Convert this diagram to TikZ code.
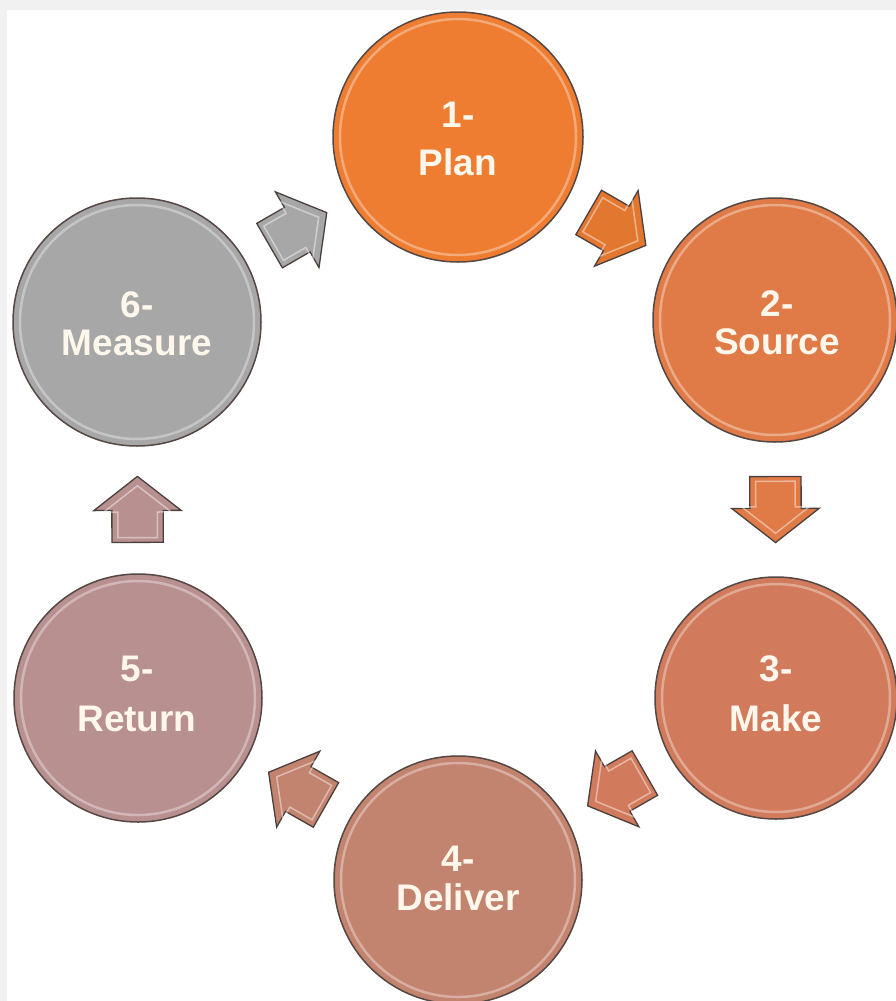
\documentclass[tikz,border=0pt]{standalone}
\usepackage{fontspec}
\setmainfont{Liberation Sans}
\usetikzlibrary{shapes.arrows,calc}
\definecolor{frame}{HTML}{F1F1F1}
\definecolor{cplan}{HTML}{EE7D31}
\definecolor{csource}{HTML}{E07B47}
\definecolor{cmake}{HTML}{D17B5C}
\definecolor{cdeliver}{HTML}{C2836F}
\definecolor{creturn}{HTML}{B8908F}
\definecolor{cmeasure}{HTML}{A7A7A7}
\definecolor{edge}{HTML}{554744}
\definecolor{txt}{HTML}{FFF7EC}
\begin{document}
\begin{tikzpicture}[x=1pt,y=-1pt,
  circ/.style={circle,draw=edge,line width=1.5pt,inner sep=0pt,minimum size=#1},
  ring/.style={circle,draw=white,draw opacity=0.35,line width=2.5pt,inner sep=0pt,minimum size=#1},
  lbl/.style={text=txt,font=\fontsize{37}{42}\selectfont\bfseries,inner sep=0pt,text height=26pt,text depth=0pt},
  barrow/.style={single arrow,draw=edge!90!black,line width=1.3pt,inner xsep=0pt,inner ysep=25pt,
     minimum height=66pt,single arrow head extend=18pt,
     single arrow tip angle=104,sloped,allow upside down,pos=0.475},
  bhl/.style={single arrow,draw=white,draw opacity=0.45,line width=1.5pt,inner xsep=0pt,inner ysep=19pt,
     minimum height=52pt,single arrow head extend=14pt,
     single arrow tip angle=104,sloped,allow upside down,pos=0.475}]
\useasboundingbox (0,0) rectangle (896,1001);
\fill[frame] (0,0) rectangle (896,1001);
\fill[white] (7,10) rectangle (896,1001);
\begin{scope}
\clip (0,0) rectangle (896,1001);
% circles
\node[circ=250pt,fill=cplan] (plan) at (458,137) {};
\node[circ=244pt,fill=csource] (source) at (775,320) {};
\node[circ=242pt,fill=cmake] (make) at (776,698) {};
\node[circ=248pt,fill=cdeliver] (deliver) at (458,880) {};
\node[circ=248pt,fill=creturn] (return) at (138,698) {};
\node[circ=248pt,fill=cmeasure] (measure) at (137,322) {};
% highlight rings
\node[ring=236pt] (planr) at (plan.center) {};
\node[ring=230pt] (sourcer) at (source.center) {};
\node[ring=228pt] (maker) at (make.center) {};
\node[ring=234pt] (deliverr) at (deliver.center) {};
\node[ring=234pt] (returnr) at (return.center) {};
\node[ring=234pt] (measurer) at (measure.center) {};
% labels
\node[lbl] (plann) at (458,114) {1-};
\node[lbl] (plant) at (458,162) {Plan};
\node[lbl] (sourcen) at (777,303) {2-};
\node[lbl] (sourcet) at (777,341) {Source};
\node[lbl] (maken) at (776,668) {3-};
\node[lbl] (maket) at (776,718) {Make};
\node[lbl] (delivern) at (458,858) {4-};
\node[lbl] (delivert) at (458,897) {Deliver};
\node[lbl] (returnn) at (137,668) {5-};
\node[lbl] (returnt) at (137,718) {Return};
\node[lbl] (measuren) at (137,304) {6-};
\node[lbl] (measuret) at (137,342) {Measure};
% block arrows
\path (plan.center) -- (source.center) node[barrow,fill=cplan!95!black] (a1) {} node[bhl] (a1h) {};
\path (source.center) -- (make.center) node[barrow,fill=csource] (a2) {} node[bhl] (a2h) {};
\path (make.center) -- (deliver.center) node[barrow,fill=cmake] (a3) {} node[bhl] (a3h) {};
\path (deliver.center) -- (return.center) node[barrow,fill=cdeliver] (a4) {} node[bhl] (a4h) {};
\path (return.center) -- (measure.center) node[barrow,fill=creturn] (a5) {} node[bhl] (a5h) {};
\path (measure.center) -- (plan.center) node[barrow,fill=cmeasure] (a6) {} node[bhl] (a6h) {};
\end{scope}
\end{tikzpicture}
\end{document}
